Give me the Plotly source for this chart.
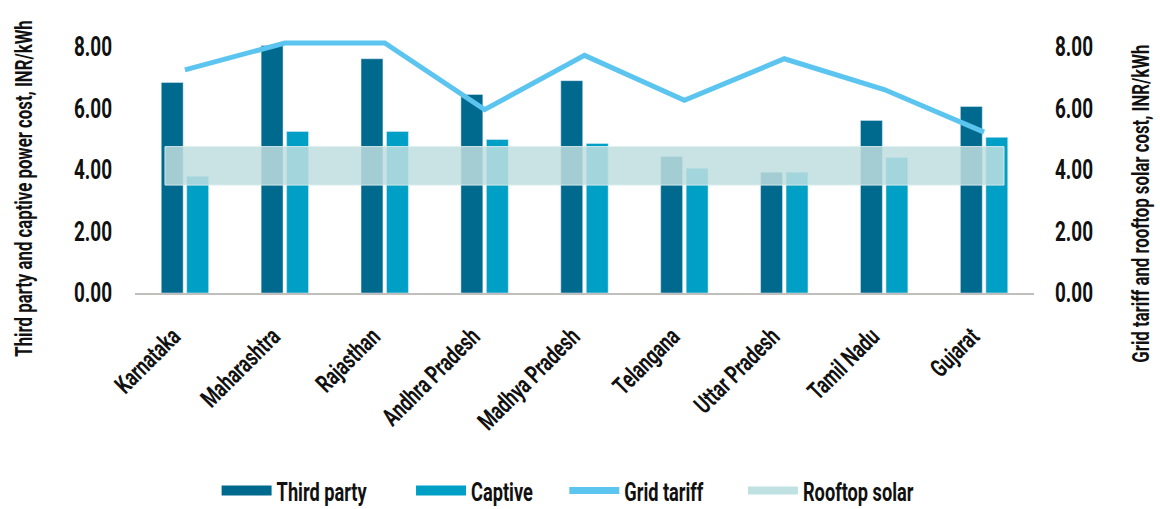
import plotly.graph_objects as go

# Cost comparison by state, INR/kWh
states = ["Karnataka", "Maharashtra", "Rajasthan", "Andhra Pradesh", "Madhya Pradesh",
          "Telangana", "Uttar Pradesh", "Tamil Nadu", "Gujarat"]
third_party = [6.83, 8.03, 7.60, 6.44, 6.89, 4.43, 3.92, 5.60, 6.05]
captive = [3.79, 5.24, 5.24, 4.98, 4.85, 4.05, 3.92, 4.40, 5.05]
grid_tariff = [7.24, 8.11, 8.11, 5.95, 7.71, 6.25, 7.60, 6.60, 5.22]
rooftop_low = 3.50
rooftop_high = 4.75
y_ticks = [0, 2, 4, 6, 8]

FONT = "Roboto, Inter, sans-serif"
C_THIRD = "#006a8e"
C_CAPTIVE = "#00a0c6"
C_GRID = "#5bc5f0"
C_ROOF = "rgba(191,222,223,0.85)"

x = list(range(len(states)))

fig = go.Figure()

fig.add_trace(go.Bar(x=x, y=third_party, name="Third party", marker_color=C_THIRD,
                     showlegend=False, offsetgroup="a"))
fig.add_trace(go.Bar(x=x, y=captive, name="Captive", marker_color=C_CAPTIVE,
                     showlegend=False, offsetgroup="b"))

# Rooftop solar cost band across all states
band_x = [-0.2, len(states) - 1 + 0.2]
fig.add_trace(go.Scatter(
    x=[band_x[0], band_x[1], band_x[1], band_x[0], band_x[0]],
    y=[rooftop_low, rooftop_low, rooftop_high, rooftop_high, rooftop_low],
    fill="toself", fillcolor=C_ROOF, mode="lines",
    line=dict(color="rgba(220,238,238,0.9)", width=1),
    yaxis="y2", showlegend=False, hoverinfo="skip"))

fig.add_trace(go.Scatter(x=x, y=grid_tariff, name="Grid tariff", mode="lines",
                         line=dict(color=C_GRID, width=5), yaxis="y2", showlegend=False))

# Legend entries
for name, color, w in [("Third party", C_THIRD, 12), ("Captive", C_CAPTIVE, 12),
                       ("Grid tariff", C_GRID, 7), ("Rooftop solar", "#c0e1e1", 8)]:
    fig.add_trace(go.Scatter(x=[None], y=[None], mode="lines", name=name,
                             line=dict(color=color, width=w)))

yrange = [0, 8.5]
fig.update_layout(
    width=1160, height=509,
    margin=dict(l=135, r=126, t=31, b=216, autoexpand=False),
    paper_bgcolor="white", plot_bgcolor="white",
    font=dict(family=FONT, size=24, color="#111111", weight="bold"),
    barmode="group", bargap=0.49, bargroupgap=0.14,
    showlegend=True,
    legend=dict(orientation="h", xref="container", x=0.51, xanchor="center",
                yref="container", y=0.036, yanchor="middle",
                font=dict(size=26), itemwidth=50, traceorder="normal"),
    xaxis=dict(range=[-0.5, len(states) - 0.5], tickvals=x, ticktext=states,
               tickangle=-45, showline=True, linecolor="#c0bfbd", linewidth=2,
               showgrid=False, zeroline=False, ticks="", automargin=False,
               ticklabelstandoff=17, ticklabelshift=-12, tickfont=dict(size=25)),
    yaxis=dict(range=yrange, tickvals=y_ticks, tickformat=".2f", showgrid=False,
               zeroline=False, showline=False, ticks="", automargin=False,
               ticklabelstandoff=22, tickfont=dict(size=27)),
    yaxis2=dict(range=yrange, tickvals=y_ticks, tickformat=".2f", overlaying="y",
                side="right", showgrid=False, zeroline=False, showline=False, ticks="",
                automargin=False, ticklabelstandoff=20, tickfont=dict(size=27)),
    annotations=[
        dict(text="Third party and captive power cost, INR/kWh", textangle=-90,
             xref="paper", yref="paper", x=-0.1235, y=0.401, showarrow=False,
             xanchor="center", yanchor="middle", font=dict(size=24)),
        dict(text="Grid tariff and rooftop solar cost, INR/kWh", textangle=-90,
             xref="paper", yref="paper", x=1.119, y=0.3435, showarrow=False,
             xanchor="center", yanchor="middle", font=dict(size=24)),
    ],
)

# Narrow every label horizontally to give the type a condensed face
condense = """
var gd = document.getElementById('{plot_id}');
var k = 0.7;
gd.querySelectorAll('.annotation-text').forEach(function (t) {
  var x0 = parseFloat(t.getAttribute('x')) || 0;
  t.setAttribute('transform', 'translate(' + (x0 * (1 - k)).toFixed(2) + ',0) scale(' + k + ',1)');
  t.setAttribute('data-narrow', '1');
});
gd.querySelectorAll('.annotation rect.bg').forEach(function (r) {
  r.setAttribute('display', 'none');
});
gd.querySelectorAll('svg text').forEach(function (t) {
  if (t.getAttribute('data-narrow')) { return; }
  var len = t.getComputedTextLength();
  if (len > 0) {
    t.setAttribute('data-narrow', '1');
    t.setAttribute('textLength', (len * k).toFixed(2));
    t.setAttribute('lengthAdjust', 'spacingAndGlyphs');
  }
});
"""

fig.write_html("out.html", post_script=condense)
